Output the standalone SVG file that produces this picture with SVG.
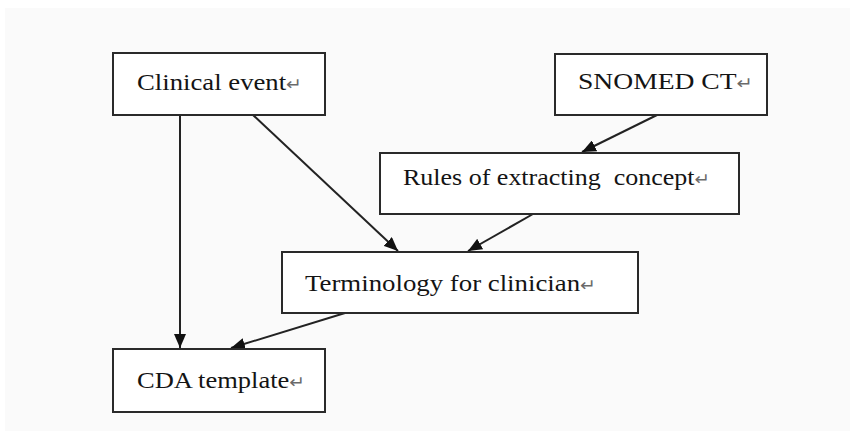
<svg xmlns="http://www.w3.org/2000/svg" width="850" height="431" viewBox="0 0 850 431">
  <style>
    .box { fill: #ffffff; stroke: #2a2a2a; stroke-width: 2; }
    .lbl { font-family: "Liberation Serif", "Times New Roman", "DejaVu Serif", serif; font-size: 24px; fill: #141414; }
    .ret { font-family: "DejaVu Sans", sans-serif; font-size: 17px; fill: #6a6a6a; }
    .edge { stroke: #222222; stroke-width: 2; fill: none; marker-end: url(#head); }
  </style>
  <defs>
    <marker id="head" viewBox="0 0 14 12" refX="14" refY="6" markerWidth="14" markerHeight="12" markerUnits="userSpaceOnUse" orient="auto">
      <path d="M0,0 L14,6 L0,12 Z" fill="#111111"/>
    </marker>
  </defs>

  <rect x="0" y="0" width="850" height="431" fill="#ffffff"/>
  <rect x="5" y="8" width="845" height="423" fill="#fafafa"/>

  <g id="connectors">
    <line class="edge" x1="180" y1="115" x2="180" y2="348"/>
    <line class="edge" x1="253" y1="115" x2="398" y2="251"/>
    <line class="edge" x1="657" y1="115" x2="582" y2="152"/>
    <line class="edge" x1="533" y1="214" x2="468" y2="251"/>
    <line class="edge" x1="345" y1="313" x2="231" y2="348"/>
  </g>

  <g id="clinical-event">
    <rect class="box" x="113" y="53" width="212" height="62"/>
    <text class="lbl" x="137" y="90" textLength="165" lengthAdjust="spacingAndGlyphs">Clinical event<tspan class="ret">↵</tspan></text>
  </g>

  <g id="snomed-ct">
    <rect class="box" x="555" y="54" width="212" height="61"/>
    <text class="lbl" x="578" y="89" textLength="175" lengthAdjust="spacingAndGlyphs">SNOMED CT<tspan class="ret">↵</tspan></text>
  </g>

  <g id="rules">
    <rect class="box" x="380" y="153" width="359" height="61"/>
    <text class="lbl" x="403" y="185" textLength="307" lengthAdjust="spacingAndGlyphs" xml:space="preserve">Rules of extracting  concept<tspan class="ret">↵</tspan></text>
  </g>

  <g id="terminology">
    <rect class="box" x="282" y="252" width="356" height="61"/>
    <text class="lbl" x="305" y="291" textLength="291" lengthAdjust="spacingAndGlyphs">Terminology for clinician<tspan class="ret">↵</tspan></text>
  </g>

  <g id="cda-template">
    <rect class="box" x="113" y="349" width="212" height="63"/>
    <text class="lbl" x="137" y="388" textLength="168" lengthAdjust="spacingAndGlyphs">CDA template<tspan class="ret">↵</tspan></text>
  </g>
</svg>
